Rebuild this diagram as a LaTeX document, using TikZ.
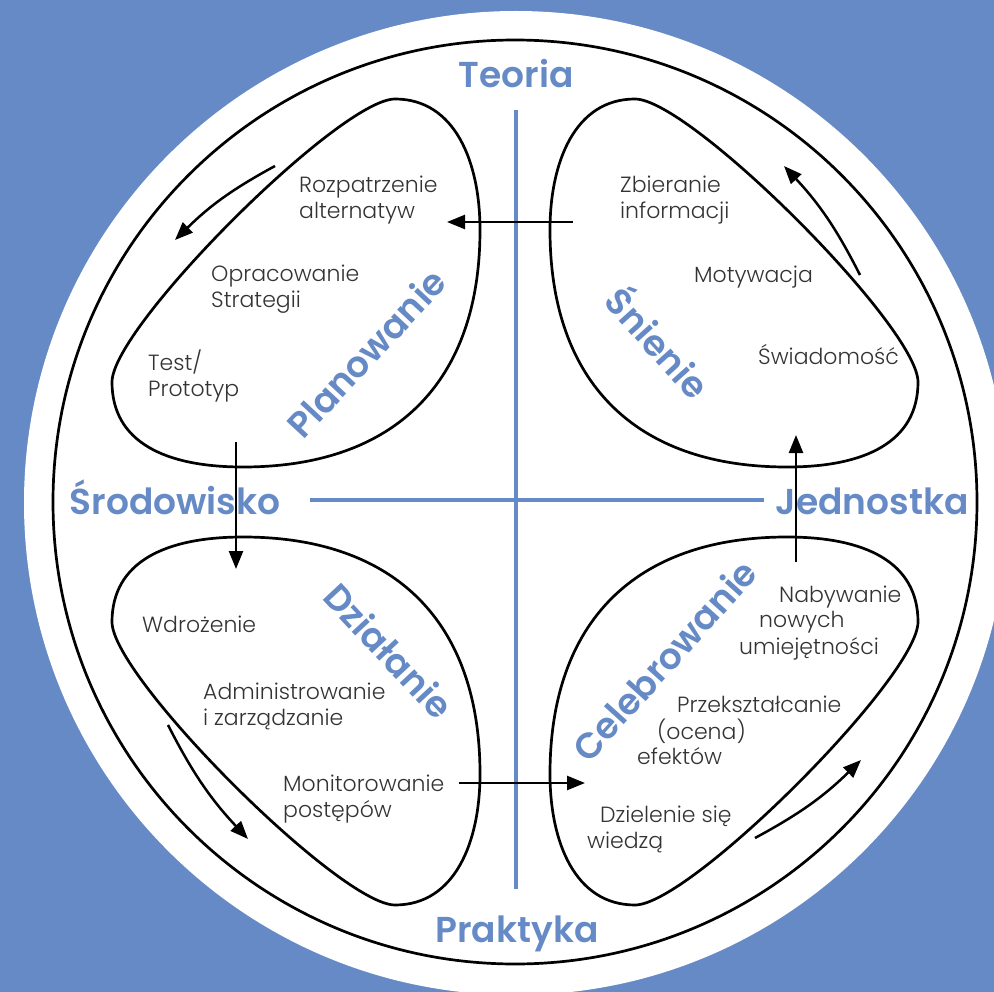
\documentclass[tikz,border=0pt]{standalone}
\usepackage{fontspec}
\setmainfont{Poppins}[UprightFont=* Light, BoldFont=* SemiBold]
\usetikzlibrary{arrows.meta}
\definecolor{bgblue}{HTML}{668AC6}
\definecolor{txt}{HTML}{333333}
\tikzset{
  lbl/.style={text=bgblue, font=\bfseries\fontsize{36}{42}\selectfont, inner sep=0pt},
  item/.style={text=txt, font=\fontsize{22}{26}\selectfont, align=left, anchor=base west, inner sep=0pt},
  blob/.style={draw=black, line width=2.7pt},
  arr/.style={draw=black, line width=2.5pt, -{Triangle[length=18pt,width=14pt]}},
  axisline/.style={draw=bgblue, line width=4pt},
}
\newcommand{\blobpath}{(-120,-403)
  .. controls (-60,-403) and (-35,-340) .. (-35,-272)
  .. controls (-35,-120) and (-120,-35) .. (-272,-35)
  .. controls (-350,-35) and (-403,-60) .. (-403,-120)
  .. controls (-403,-175) and (-175,-403) .. cycle}
\begin{document}
\begin{tikzpicture}[x=1pt,y=-1pt]
\useasboundingbox (0,0) rectangle (994,992);
\clip (0,0) rectangle (994,992);
\fill[bgblue] (0,0) rectangle (994,992);
\fill[white] (516,503) circle[radius=492pt];
\draw[line width=2.7pt] (515,502) circle[radius=462pt];

% axes
\coordinate (vtop) at (516,110);
\coordinate (vbot) at (516,889);
\coordinate (hleft) at (310,500);
\coordinate (hright) at (764,500);
\draw[axisline] (vtop) -- (vbot);
\draw[axisline] (hleft) -- (hright);

% axis labels
\node[lbl, anchor=base] (teoria) at (516,88) {Teoria};
\node[lbl, anchor=base] (praktyka) at (517,942) {Praktyka};
\node[lbl, anchor=base] (srod) at (175,514) {Środowisko};
\node[lbl, anchor=base] (jedn) at (872,514) {Jednostka};

% blobs (four mirrored copies of one leaf)
\begin{scope}[shift={(515,502)}]
  \draw[blob] \blobpath;
\end{scope}
\begin{scope}[shift={(515,502)}, xscale=-1]
  \draw[blob] \blobpath;
\end{scope}
\begin{scope}[shift={(515,502)}, yscale=-1]
  \draw[blob] \blobpath;
\end{scope}
\begin{scope}[shift={(515,502)}, xscale=-1, yscale=-1]
  \draw[blob] \blobpath;
\end{scope}

% quadrant labels
\node[lbl, rotate=47] (plan) at (366,353) {Planowanie};
\node[lbl, rotate=-48] (snie) at (660,341) {Śnienie};
\node[lbl, rotate=-47] (dzia) at (389,651) {Działanie};
\node[lbl, rotate=48] (cele) at (664,660) {Celebrowanie};

% items
\node[item] (rozp) at (299,219) {Rozpatrzenie\\alternatyw};
\node[item] (opra) at (211,308) {Opracowanie\\Strategii};
\node[item] (test) at (148,397) {Test/\\Prototyp};
\node[item] (zbie) at (620,219) {Zbieranie\\informacji};
\node[item] (moty) at (694,283) {Motywacja};
\node[item] (swia) at (758,365) {Świadomość};
\node[item] (wdro) at (142,632) {Wdrożenie};
\node[item] (admi) at (203,725) {Administrowanie\\i zarządzanie};
\node[item] (moni) at (283,817) {Monitorowanie\\postępów};
\node[item] (nab1) at (779,602) {Nabywanie};
\node[item] (nab2) at (759,627) {nowych};
\node[item] (nab3) at (739,654) {umiejętności};
\node[item] (prz1) at (677,712) {Przekształcanie};
\node[item] (prz2) at (657,739) {(ocena)};
\node[item] (prz3) at (637,764) {efektów};
\node[item] (dzi1) at (600,822) {Dzielenie się};
\node[item] (dzi2) at (587,848) {wiedzą};

% arrows
\coordinate (a1s) at (573,222); \coordinate (a1e) at (447,222);
\coordinate (a2s) at (275,166); \coordinate (a2e) at (175,240);
\coordinate (a3s) at (236,442); \coordinate (a3e) at (236,569);
\coordinate (a4s) at (168,725); \coordinate (a4e) at (248,839);
\coordinate (a5s) at (459,783); \coordinate (a5e) at (585,783);
\coordinate (a6s) at (755,838); \coordinate (a6e) at (861,760);
\coordinate (a7s) at (796,562); \coordinate (a7e) at (796,435);
\coordinate (a8s) at (860,275); \coordinate (a8e) at (784,166);
\draw[arr] (a1s) -- (a1e);
\draw[arr] (a2s) to[bend right=8] (a2e);
\draw[arr] (a3s) -- (a3e);
\draw[arr] (a4s) to[bend right=8] (a4e);
\draw[arr] (a5s) -- (a5e);
\draw[arr] (a6s) to[bend right=8] (a6e);
\draw[arr] (a7s) -- (a7e);
\draw[arr] (a8s) to[bend right=8] (a8e);
\end{tikzpicture}
\end{document}
